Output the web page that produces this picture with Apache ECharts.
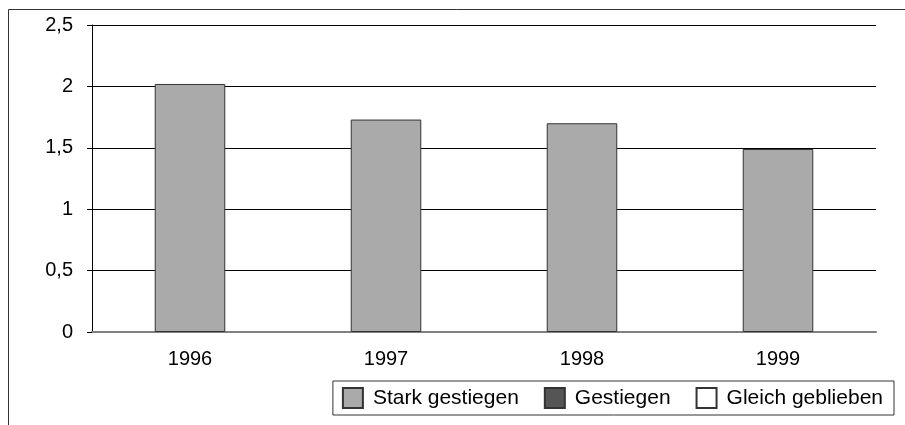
<!DOCTYPE html>
<html>
<head>
<meta charset="utf-8">
<script src="https://cdn.jsdelivr.net/npm/echarts@6/dist/echarts.min.js"></script>
<style>
  html, body { margin: 0; padding: 0; background: #fff; }
  #chart { width: 905px; height: 425px; }
</style>
</head>
<body>
<div id="chart"></div>
<script>
// Daten
var years = ['1996', '1997', '1998', '1999'];
var starkGestiegen = [2.02, 1.73, 1.70, 1.49];
var gestiegen = [null, null, null, null];
var gleichGeblieben = [null, null, null, null];
var yTicks = [0, 0.5, 1, 1.5, 2, 2.5];

var myChart = echarts.init(document.getElementById('chart'));

myChart.setOption({
    animation: false,
    textStyle: { fontFamily: 'Liberation Sans, Arial, sans-serif' },
    // Rahmen um das Diagramm (rechts/unten abgeschnitten)
    graphic: [{
        type: 'rect',
        shape: { x: 8.5, y: 9.5, width: 1000, height: 1000 },
        style: { fill: 'none', stroke: '#333', lineWidth: 1 },
        silent: true
    }],
    grid: {
        left: 92,
        right: 29,
        top: 25,
        bottom: 93
    },
    legend: {
        data: ['Stark gestiegen', 'Gestiegen', 'Gleich geblieben'],
        right: 11,
        top: 381,
        itemWidth: 20,
        itemHeight: 20,
        itemGap: 25,
        padding: [6, 11, 6, 9],
        borderColor: '#333',
        borderWidth: 1,
        icon: 'rect',
        textStyle: { fontSize: 21, color: '#000', padding: [0, 0, 0, 5] }
    },
    xAxis: {
        type: 'category',
        data: years,
        axisLine: { lineStyle: { color: '#808080', width: 2 } },
        axisTick: { show: false },
        axisLabel: { fontSize: 20, color: '#000', margin: 17 }
    },
    yAxis: {
        type: 'value',
        min: yTicks[0],
        max: yTicks[yTicks.length - 1],
        interval: 0.5,
        axisLine: { show: true, lineStyle: { color: '#000' } },
        axisTick: { show: true, length: 5, lineStyle: { color: '#000' } },
        splitLine: { lineStyle: { color: '#000', width: 1 } },
        axisLabel: {
            fontSize: 20,
            color: '#000',
            margin: 19,
            formatter: function (v) { return String(v).replace('.', ','); }
        }
    },
    series: [
        {
            name: 'Stark gestiegen',
            type: 'bar',
            stack: 'a',
            barWidth: '36%',
            data: starkGestiegen,
            itemStyle: { color: '#aaaaaa', borderColor: '#333', borderWidth: 1 }
        },
        {
            name: 'Gestiegen',
            type: 'bar',
            stack: 'a',
            data: gestiegen,
            itemStyle: { color: '#555555', borderColor: '#333', borderWidth: 1 }
        },
        {
            name: 'Gleich geblieben',
            type: 'bar',
            stack: 'a',
            data: gleichGeblieben,
            itemStyle: { color: '#ffffff', borderColor: '#333', borderWidth: 1 }
        }
    ]
});
</script>
</body>
</html>
